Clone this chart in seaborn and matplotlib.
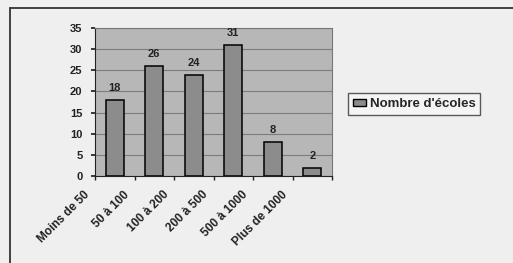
import pandas as pd
import matplotlib.pyplot as plt
import seaborn as sns
from matplotlib.transforms import ScaledTranslation
from matplotlib.lines import Line2D
from matplotlib.patches import Patch

categories = ["Moins de 50", "50 à 100", "100 à 200", "200 à 500", "500 à 1000", "Plus de 1000"]
nb_ecoles = [18, 26, 24, 31, 8, 2]
y_ticks = [0, 5, 10, 15, 20, 25, 30, 35]
legend_label = "Nombre d'écoles"

df = pd.DataFrame({"categorie": categories, "ecoles": nb_ecoles})

sns.set_theme(style="white")
plt.rcParams['font.family'] = ['Liberation Sans', 'DejaVu Sans']
plt.rcParams['font.weight'] = 'bold'

fig = plt.figure(figsize=(5.13, 2.63), dpi=100, facecolor="#efefef")
ax = fig.add_axes([95/513, 1 - 176/263, (332 - 95)/513, (176 - 28)/263])
ax.set_facecolor("#b7b7b7")

sns.barplot(data=df, x="categorie", y="ecoles", color="#8c8c8c", edgecolor="black",
            linewidth=1.1, width=0.45, saturation=1, ax=ax, zorder=3)

ax.set_xlim(-0.5, 5.5)
ax.set_ylim(0, 35)
ax.set_yticks(y_ticks)
ax.yaxis.grid(True, color="#7c7c7c", linewidth=0.8)
ax.set_axisbelow(True)
ax.set_xlabel('')
ax.set_ylabel('')

for s in ax.spines.values():
    s.set_color("#777777")
    s.set_linewidth(0.8)
ax.spines['left'].set_color("#222222")
ax.spines['bottom'].set_color("#222222")

# ticks between categories, like the old spreadsheet
ax.set_xticks([i - 0.5 for i in range(7)], minor=True)
ax.tick_params(axis='x', which='major', length=0, labelsize=8.5, colors="#222222")
ax.tick_params(axis='x', which='minor', length=3, direction='out', color="#222222", bottom=True)
ax.tick_params(axis='y', length=3, direction='out', left=True, labelsize=8, pad=6, colors="#222222")

off = ScaledTranslation(-31/100, -8/100, fig.dpi_scale_trans)
for lab in ax.get_xticklabels():
    lab.set_rotation(45)
    lab.set_ha('right')
    lab.set_rotation_mode('anchor')
    lab.set_transform(lab.get_transform() + off)

ax.bar_label(ax.containers[0], padding=5, fontsize=8, color="#222222")

fig.legend(handles=[Patch(facecolor="#8c8c8c", edgecolor="black")], labels=[legend_label],
           loc='center left', bbox_to_anchor=(348/513, 1 - 104/263), borderaxespad=0,
           fontsize=9.5, frameon=True, fancybox=False, edgecolor="#333333", facecolor="#f7f7f7",
           handlelength=1.0, handleheight=0.5, handletextpad=0.3, borderpad=0.35)

fig.add_artist(Line2D([10/513, 10/513], [0, 1 - 8/263], transform=fig.transFigure, color="#333333", lw=1.3))
fig.add_artist(Line2D([10/513, 1], [1 - 8/263, 1 - 8/263], transform=fig.transFigure, color="#333333", lw=1.3))

plt.savefig('out.png', dpi=100, facecolor=fig.get_facecolor())
